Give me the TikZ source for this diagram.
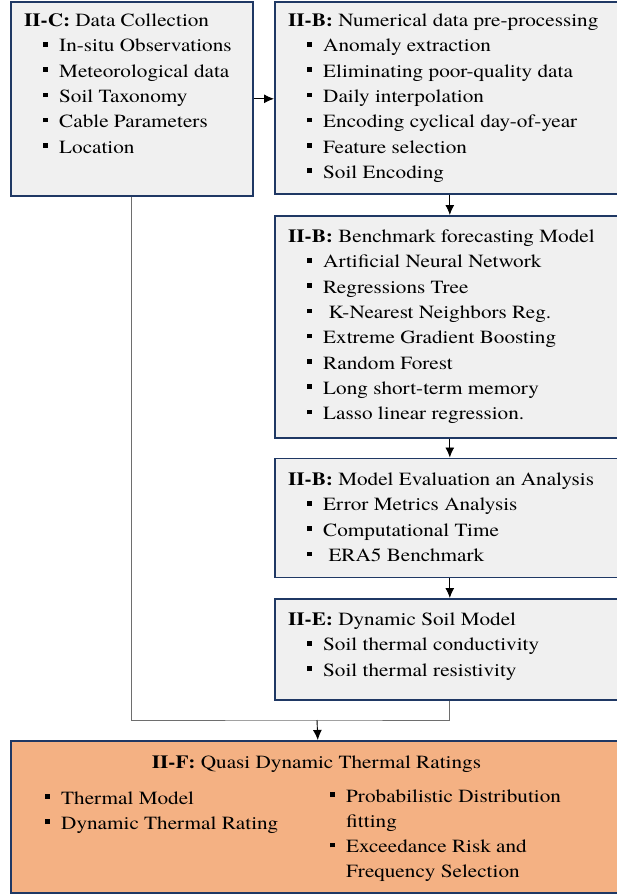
\documentclass[tikz,border=0pt]{standalone}
\usepackage{fontspec}
\setmainfont{texgyretermes}[Extension=.otf, UprightFont=*-regular, BoldFont=*-bold, ItalicFont=*-italic, BoldItalicFont=*-bolditalic, FakeStretch=1.14]
\usetikzlibrary{arrows.meta}
\newcommand\bul{\makebox[16pt][l]{\rule[5.3pt]{4.6pt}{4.6pt}}}
\tikzset{
  box/.style={draw=navy, line width=1.6pt, fill=boxgray, inner sep=0, anchor=north west},
  obox/.style={draw=navy, line width=1.6pt, fill=orng, inner sep=0, anchor=north west},
  txt/.style={inner sep=0, anchor=base west, font=\fontsize{18.6}{25.3}\selectfont},
  ctxt/.style={inner sep=0, anchor=base, font=\fontsize{18.6}{25.3}\selectfont},
  conn/.style={draw=linegray, line width=0.9pt},
  arr/.style={draw=black, line width=0.9pt, -{Latex[length=10pt,width=9pt]}}
}
\definecolor{navy}{HTML}{1F3864}
\definecolor{boxgray}{HTML}{F0F0F0}
\definecolor{orng}{HTML}{F4B183}
\definecolor{linegray}{HTML}{6E6E6E}
\begin{document}
\begin{tikzpicture}[x=1pt,y=-1pt]
\useasboundingbox (0,0) rectangle (617,896);
% boxes
\node[box, minimum width=242pt, minimum height=194pt] (A) at (10,1) {};
\node[box, minimum width=350pt, minimum height=192pt] (B) at (274,1) {};
\node[box, minimum width=350pt, minimum height=222pt] (C) at (274,215) {};
\node[box, minimum width=350pt, minimum height=119pt] (D) at (274,457.5) {};
\node[box, minimum width=350pt, minimum height=101pt] (E) at (274,598) {};
\node[obox, minimum width=614pt, minimum height=152pt] (Q) at (10,740) {};
% connectors
\draw[arr] (A.east) -- (A.east -| B.west);
\draw[arr] (B.south) -- (C.north);
\draw[arr] (C.south) -- (D.north);
\draw[arr] (D.south) -- (E.north);
\coordinate (j) at (317,720);
\draw[conn] (A.south) |- (j) -| (E.south);
\draw[arr] (j) -- (Q.north);
% box A text
\node[txt] (a0) at (24,26.7) {\textbf{II-C:} Data Collection};
\node[txt] (a1) at (43,51.9) {\bul In-situ Observations};
\node[txt] (a2) at (43,77.2) {\bul Meteorological data};
\node[txt] (a3) at (43,102.5) {\bul Soil Taxonomy};
\node[txt] (a4) at (43,127.8) {\bul Cable Parameters};
\node[txt] (a5) at (43,153.1) {\bul Location};
% box B text
\node[txt] (b0) at (288,26.7) {\textbf{II-B:} Numerical data pre-processing};
\node[txt] (b1) at (307,51.9) {\bul Anomaly extraction};
\node[txt] (b2) at (307,77.2) {\bul Eliminating poor-quality data};
\node[txt] (b3) at (307,102.5) {\bul Daily interpolation};
\node[txt] (b4) at (307,127.8) {\bul Encoding cyclical day-of-year};
\node[txt] (b5) at (307,153.1) {\bul Feature selection};
\node[txt] (b6) at (307,178.4) {\bul Soil Encoding};
% box C text
\node[txt] (c0) at (288,242.5) {\textbf{II-B:} Benchmark forecasting Model};
\node[txt] (c1) at (307,267.8) {\bul Artificial Neural Network};
\node[txt] (c2) at (307,293.1) {\bul Regressions Tree};
\node[txt] (c3) at (307,318.4) {\bul \ K-Nearest Neighbors Reg.};
\node[txt] (c4) at (307,343.7) {\bul Extreme Gradient Boosting};
\node[txt] (c5) at (307,369.0) {\bul Random Forest};
\node[txt] (c6) at (307,394.3) {\bul Long short-term memory};
\node[txt] (c7) at (307,419.6) {\bul Lasso linear regression.};
% box D text
\node[txt] (d0) at (288,485.5) {\textbf{II-B:} Model Evaluation an Analysis};
\node[txt] (d1) at (307,510.8) {\bul Error Metrics Analysis};
\node[txt] (d2) at (307,536.1) {\bul Computational Time};
\node[txt] (d3) at (307,561.4) {\bul \ ERA5 Benchmark};
% box E text
\node[txt] (e0) at (288,625.5) {\textbf{II-E:} Dynamic Soil Model};
\node[txt] (e1) at (307,650.8) {\bul Soil thermal conductivity};
\node[txt] (e2) at (307,676.1) {\bul Soil thermal resistivity};
% box Q text
\node[ctxt] (q0) at (316.5,768) {\textbf{II-F:} Quasi Dynamic Thermal Ratings};
\node[txt] (q1) at (45,804) {\bul Thermal Model};
\node[txt] (q2) at (45,829.3) {\bul Dynamic Thermal Rating};
\node[txt] (q3) at (330,802) {\bul Probabilistic Distribution};
\node[txt] (q4) at (346,827.3) {fitting};
\node[txt] (q5) at (330,852.6) {\bul Exceedance Risk and};
\node[txt] (q6) at (346,877.9) {Frequency Selection};
\end{tikzpicture}
\end{document}
